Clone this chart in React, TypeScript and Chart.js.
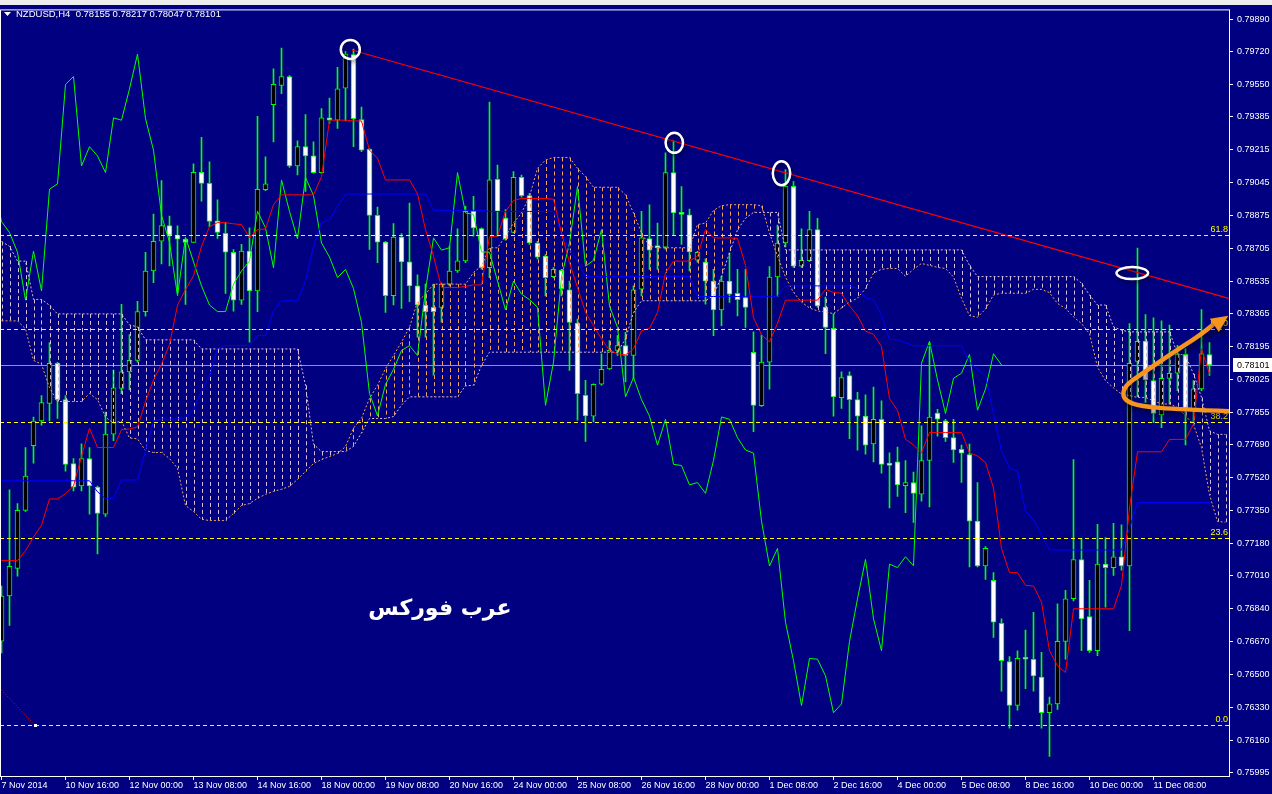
import React, { useEffect, useRef } from "react";
import { Chart, registerables } from "chart.js";

Chart.register(...registerables);

// ---------------- data ----------------
const SYMBOL = "NZDUSD,H4";

const openP = [
  0.76673, 0.76906, 0.77049, 0.77349, 0.77683, 0.77811, 0.77902, 0.78109, 0.77922, 0.77591,
  0.77475, 0.77617, 0.77469, 0.77329, 0.77743, 0.77979, 0.78065, 0.78125, 0.78377, 0.78587,
  0.78741, 0.78822, 0.78772, 0.78751, 0.78735, 0.79097, 0.7904, 0.78847, 0.78782, 0.78684,
  0.78436, 0.7869, 0.78484, 0.79007, 0.79447, 0.79547, 0.79593, 0.7913, 0.7923, 0.79183,
  0.79096, 0.79379, 0.79367, 0.79533, 0.79706, 0.7937, 0.79216, 0.78875, 0.78736, 0.78459,
  0.78762, 0.78634, 0.7851, 0.78411, 0.78399, 0.78399, 0.78519, 0.78587, 0.78639, 0.78896,
  0.78806, 0.78604, 0.79061, 0.78861, 0.78787, 0.79071, 0.78977, 0.78732, 0.78664, 0.78558,
  0.7859, 0.78489, 0.78318, 0.77944, 0.77836, 0.78001, 0.78081, 0.78176, 0.78201, 0.7815,
  0.78493, 0.78755, 0.78719, 0.7871, 0.79096, 0.78887, 0.78878, 0.78643, 0.78633, 0.78535,
  0.78386, 0.78535, 0.78471, 0.7845, 0.78166, 0.7789, 0.78116, 0.78556, 0.78732, 0.79025,
  0.78612, 0.7864, 0.78801, 0.784, 0.78291, 0.77932, 0.78046, 0.77922, 0.77836, 0.77692,
  0.7782, 0.77593, 0.776, 0.77477, 0.77493, 0.77433, 0.77607, 0.77852, 0.77812, 0.77725,
  0.77665, 0.77637, 0.77293, 0.77062, 0.76987, 0.76765, 0.76567, 0.7634, 0.76585, 0.76579,
  0.76487, 0.76302, 0.76348, 0.76671, 0.76892, 0.77095, 0.768, 0.76623, 0.77071, 0.77053,
  0.77109, 0.77062, 0.78119, 0.78225, 0.7802, 0.77843, 0.78032, 0.78058, 0.78156, 0.77864,
  0.77977, 0.78155,
];
const highP = [
  0.76957, 0.77455, 0.77384, 0.77674, 0.77831, 0.77943, 0.78217, 0.78115, 0.77943, 0.77617,
  0.77693, 0.77674, 0.77475, 0.77857, 0.78075, 0.78414, 0.78258, 0.7843, 0.78684, 0.78881,
  0.79054, 0.78871, 0.7882, 0.78755, 0.79141, 0.79278, 0.79152, 0.78955, 0.78837, 0.78698,
  0.78725, 0.7881, 0.79387, 0.79178, 0.79632, 0.7974, 0.79598, 0.7926, 0.79396, 0.79255,
  0.79427, 0.79481, 0.79641, 0.79723, 0.79735, 0.79435, 0.79221, 0.78918, 0.78741, 0.78832,
  0.78781, 0.78938, 0.78567, 0.78519, 0.78519, 0.78524, 0.78716, 0.78805, 0.78921, 0.78973,
  0.7881, 0.79461, 0.79135, 0.78904, 0.79101, 0.79083, 0.78989, 0.78741, 0.78672, 0.78604,
  0.78595, 0.78535, 0.78338, 0.78021, 0.78004, 0.78159, 0.78227, 0.78253, 0.7827, 0.7851,
  0.78895, 0.78929, 0.78835, 0.79198, 0.7926, 0.79024, 0.78907, 0.78689, 0.7865, 0.78595,
  0.78561, 0.78681, 0.78595, 0.78595, 0.78272, 0.78256, 0.7861, 0.78825, 0.79111, 0.79051,
  0.78805, 0.78895, 0.78859, 0.78452, 0.78366, 0.78066, 0.78066, 0.7796, 0.77946, 0.77986,
  0.77916, 0.77646, 0.77676, 0.77607, 0.77547, 0.77786, 0.78216, 0.77872, 0.7782, 0.7782,
  0.77686, 0.77692, 0.77493, 0.77161, 0.77027, 0.76788, 0.76593, 0.76623, 0.7673, 0.76822,
  0.76614, 0.76383, 0.76866, 0.76935, 0.77612, 0.77204, 0.76987, 0.77277, 0.77208, 0.77282,
  0.77274, 0.78315, 0.78706, 0.78362, 0.78345, 0.78329, 0.78307, 0.78202, 0.78185, 0.7802,
  0.78388, 0.78217,
];
const lowP = [
  0.76612, 0.76754, 0.77008, 0.77343, 0.77593, 0.7779, 0.77811, 0.77825, 0.77552, 0.77449,
  0.77449, 0.77329, 0.77124, 0.77317, 0.77709, 0.77953, 0.77973, 0.78115, 0.78353, 0.78526,
  0.78623, 0.78613, 0.78475, 0.78414, 0.78735, 0.78948, 0.78816, 0.78755, 0.78471, 0.78379,
  0.78414, 0.78219, 0.78377, 0.79003, 0.79255, 0.79504, 0.79123, 0.79084, 0.78998, 0.79093,
  0.79093, 0.7935, 0.79324, 0.79363, 0.7923, 0.79204, 0.78699, 0.7863, 0.78373, 0.78411,
  0.78394, 0.78428, 0.78245, 0.78245, 0.78048, 0.78322, 0.7851, 0.78579, 0.7863, 0.78767,
  0.78596, 0.78553, 0.78767, 0.78746, 0.78784, 0.78969, 0.78724, 0.7865, 0.78458, 0.78553,
  0.78458, 0.78073, 0.77816, 0.77705, 0.77807, 0.77996, 0.78078, 0.7815, 0.78013, 0.7803,
  0.78458, 0.78595, 0.78595, 0.787, 0.78775, 0.78724, 0.78587, 0.78633, 0.78415, 0.78253,
  0.78304, 0.78424, 0.78355, 0.78295, 0.77756, 0.77886, 0.77976, 0.78456, 0.78712, 0.78606,
  0.78606, 0.78636, 0.784, 0.7816, 0.77836, 0.77876, 0.7772, 0.7766, 0.7764, 0.776,
  0.77541, 0.77361, 0.77421, 0.77337, 0.77287, 0.77397, 0.77367, 0.77733, 0.77706, 0.77597,
  0.77493, 0.77057, 0.77057, 0.76992, 0.76692, 0.76414, 0.76223, 0.76315, 0.76427, 0.76414,
  0.76223, 0.76076, 0.76319, 0.76579, 0.7688, 0.76623, 0.76614, 0.76597, 0.76848, 0.77013,
  0.77039, 0.76727, 0.77937, 0.77907, 0.77803, 0.77777, 0.77899, 0.77968, 0.77687, 0.77803,
  0.77968, 0.78047,
];
const closeP = [
  0.76906, 0.77059, 0.77349, 0.77526, 0.77811, 0.77906, 0.78109, 0.77922, 0.77587, 0.77469,
  0.77617, 0.77475, 0.77333, 0.77743, 0.77983, 0.78065, 0.78125, 0.78377, 0.78587, 0.78741,
  0.78822, 0.78772, 0.78751, 0.78735, 0.79097, 0.7904, 0.78843, 0.78786, 0.78684, 0.78436,
  0.7869, 0.78484, 0.7901, 0.79038, 0.79552, 0.79593, 0.7913, 0.7923, 0.79182, 0.79096,
  0.79379, 0.79367, 0.79529, 0.79709, 0.79375, 0.79212, 0.78875, 0.78736, 0.78459, 0.78762,
  0.78634, 0.7851, 0.78411, 0.78377, 0.78377, 0.78519, 0.78587, 0.78639, 0.78896, 0.7881,
  0.78604, 0.79058, 0.78895, 0.78753, 0.79071, 0.78977, 0.78732, 0.78659, 0.78553, 0.78595,
  0.78496, 0.78321, 0.77953, 0.77838, 0.78001, 0.78078, 0.78176, 0.78201, 0.7815, 0.78489,
  0.78758, 0.78695, 0.78707, 0.79096, 0.78887, 0.7888, 0.78686, 0.78684, 0.78535, 0.78386,
  0.78535, 0.78467, 0.78439, 0.78399, 0.77892, 0.78116, 0.78556, 0.78732, 0.79025, 0.78612,
  0.78642, 0.78801, 0.78406, 0.78295, 0.77936, 0.78036, 0.77922, 0.77836, 0.77686, 0.7782,
  0.77587, 0.77581, 0.77481, 0.77493, 0.77437, 0.77607, 0.77832, 0.7782, 0.77725, 0.77661,
  0.77645, 0.77293, 0.77061, 0.77152, 0.7677, 0.76571, 0.7634, 0.76583, 0.76579, 0.76493,
  0.76302, 0.76348, 0.76671, 0.76892, 0.77095, 0.76788, 0.76623, 0.77071, 0.77053, 0.77109,
  0.77062, 0.7811, 0.78223, 0.78024, 0.7785, 0.78032, 0.78058, 0.78156, 0.77867, 0.77977,
  0.78159, 0.78101,
];

// Ichimoku lines
const tenkan = [
  0.77089, 0.77089, 0.77089, 0.7714, 0.77211, 0.77272, 0.77408, 0.77408, 0.77435, 0.77475,
  0.77628, 0.77774, 0.77674, 0.77674, 0.77674, 0.77766, 0.7777, 0.7778, 0.77912, 0.78024,
  0.78105, 0.78207, 0.7841, 0.78491, 0.78562, 0.78715, 0.78816, 0.78837, 0.78837, 0.78831,
  0.78827, 0.7876, 0.78801, 0.78805, 0.7893, 0.78981, 0.78981, 0.78981, 0.78981, 0.78981,
  0.79075, 0.79367, 0.79367, 0.79367, 0.79363, 0.79363, 0.79212, 0.7917, 0.79058, 0.79058,
  0.79058, 0.79058, 0.78986, 0.78801, 0.78664, 0.78502, 0.78502, 0.78502, 0.78507, 0.78515,
  0.78515, 0.78765, 0.78767, 0.78895, 0.78952, 0.78962, 0.78962, 0.78962, 0.78962, 0.78958,
  0.78784, 0.7863, 0.78501, 0.78373, 0.78304, 0.78236, 0.78176, 0.78159, 0.78153, 0.78184,
  0.78278, 0.7829, 0.78373, 0.78578, 0.78638, 0.78638, 0.78638, 0.78664, 0.78801, 0.78758,
  0.78758, 0.78758, 0.78755, 0.78616, 0.78346, 0.78256, 0.7822, 0.78316, 0.78436, 0.78436,
  0.78436, 0.78436, 0.78436, 0.78492, 0.78476, 0.78472, 0.78406, 0.78356, 0.78276, 0.7826,
  0.78196, 0.77926, 0.77866, 0.77717, 0.77687, 0.77647, 0.77752, 0.77752, 0.77752, 0.77752,
  0.77752, 0.77647, 0.7763, 0.77596, 0.77465, 0.77152, 0.77027, 0.77027, 0.76961, 0.76958,
  0.76874, 0.76623, 0.76545, 0.7651, 0.7684, 0.7684, 0.7684, 0.7684, 0.7684, 0.7684,
  0.76961, 0.77361, 0.77652, 0.77652, 0.77652, 0.77652, 0.77716, 0.77716, 0.77716, 0.77795,
  0.78185, 0.78055,
];
const kijun = [
  0.77502, 0.77502, 0.77502, 0.77502, 0.77502, 0.77502, 0.77502, 0.77502, 0.77502, 0.77502,
  0.77502, 0.77502, 0.77445, 0.7741, 0.7741, 0.77506, 0.77506, 0.77506, 0.77658, 0.77811,
  0.77821, 0.77821, 0.77821, 0.77831, 0.77871, 0.77963, 0.78044, 0.78186, 0.78201, 0.78201,
  0.78201, 0.78203, 0.78253, 0.78253, 0.78382, 0.78433, 0.78433, 0.78433, 0.78536, 0.78716,
  0.78836, 0.78853, 0.78921, 0.78985, 0.78985, 0.78985, 0.78985, 0.78985, 0.78985, 0.78985,
  0.78985, 0.78985, 0.78985, 0.78985, 0.78901, 0.78901, 0.78901, 0.78901, 0.78901, 0.78901,
  0.78901, 0.78895, 0.78895, 0.78895, 0.78895, 0.78895, 0.78895, 0.78895, 0.78895, 0.78895,
  0.78784, 0.78698, 0.78638, 0.78558, 0.78558, 0.78558, 0.78558, 0.78558, 0.78558, 0.78558,
  0.78558, 0.78558, 0.78558, 0.78558, 0.78558, 0.78558, 0.78558, 0.78455, 0.78455, 0.78455,
  0.78455, 0.78455, 0.78455, 0.78456, 0.78456, 0.78456, 0.78456, 0.78456, 0.7851, 0.7851,
  0.7851, 0.7851, 0.7851, 0.7851, 0.7851, 0.7851, 0.7851, 0.78496, 0.78446, 0.7844,
  0.78356, 0.78232, 0.78232, 0.78216, 0.782, 0.782, 0.782, 0.782, 0.782, 0.782,
  0.782, 0.78116, 0.78076, 0.78045, 0.77847, 0.77656, 0.77569, 0.77551, 0.77343, 0.773,
  0.77222, 0.77144, 0.77144, 0.77144, 0.77144, 0.77144, 0.77144, 0.77144, 0.77144, 0.77144,
  0.77144, 0.77256, 0.7739, 0.7739, 0.7739, 0.7739, 0.7739, 0.7739, 0.7739, 0.7739,
  0.7739, 0.7739,
];
const spanA = [
  0.78329, 0.78329, 0.78329, 0.78288, 0.78125, 0.78105, 0.77983, 0.77912, 0.77912, 0.77912,
  0.77912, 0.77953, 0.77922, 0.77831, 0.778, 0.77811, 0.77723, 0.77719, 0.77658, 0.77648,
  0.77648, 0.77617, 0.77567, 0.77374, 0.77343, 0.77303, 0.77296, 0.77296, 0.77296, 0.77333,
  0.77374, 0.77384, 0.77411, 0.77432, 0.77447, 0.77458, 0.77473, 0.77509, 0.7755, 0.77591,
  0.77612, 0.77627, 0.77643, 0.77679, 0.77774, 0.77825, 0.77928, 0.77996, 0.78082, 0.7815,
  0.78219, 0.78296, 0.78428, 0.78467, 0.78519, 0.78519, 0.78519, 0.78519, 0.78519, 0.78579,
  0.78613, 0.78707, 0.78707, 0.78767, 0.78835, 0.78887, 0.78972, 0.79118, 0.79161, 0.79174,
  0.79174, 0.79174, 0.79118, 0.79075, 0.7902, 0.7902, 0.7902, 0.7902, 0.78981, 0.78887,
  0.78784, 0.78715, 0.78707, 0.78707, 0.78707, 0.78707, 0.78707, 0.78827, 0.78835, 0.789,
  0.78925, 0.7893, 0.7893, 0.7893, 0.7893, 0.78925, 0.78784, 0.78664, 0.78556, 0.78476,
  0.78426, 0.78396, 0.7838, 0.78376, 0.78366, 0.78396, 0.78426, 0.78446, 0.78496, 0.78576,
  0.78596, 0.786, 0.786, 0.7856, 0.78596, 0.78626, 0.78616, 0.78606, 0.786, 0.78556,
  0.78446, 0.78356, 0.78348, 0.7839, 0.78463, 0.78472, 0.78472, 0.78472, 0.78472, 0.78492,
  0.78492, 0.78475, 0.78419, 0.78393, 0.7835, 0.78315, 0.78263, 0.7809, 0.7802, 0.77982,
  0.77951, 0.77942, 0.77933, 0.77933, 0.77916, 0.77899, 0.77899, 0.77881, 0.77838, 0.77794,
  0.77673, 0.7743, 0.77291, 0.77288,
];
const spanB = [
  0.78739, 0.78715, 0.78638, 0.78638, 0.7844, 0.7844, 0.7841, 0.78365, 0.78365, 0.78365,
  0.78365, 0.78365, 0.78365, 0.78365, 0.78365, 0.78365, 0.78308, 0.78298, 0.78231, 0.78231,
  0.78231, 0.78231, 0.78231, 0.78231, 0.78231, 0.78184, 0.78184, 0.78184, 0.78184, 0.78184,
  0.78184, 0.78184, 0.78184, 0.78184, 0.78184, 0.78184, 0.78184, 0.78184, 0.77996, 0.77691,
  0.77653, 0.77653, 0.77653, 0.77653, 0.7768, 0.7775, 0.77824, 0.77824, 0.77824, 0.77834,
  0.77893, 0.77936, 0.77936, 0.77936, 0.77936, 0.77936, 0.77936, 0.77936, 0.77993, 0.77996,
  0.78099, 0.78167, 0.78167, 0.78167, 0.78167, 0.78167, 0.78167, 0.78167, 0.78167, 0.78167,
  0.78167, 0.78167, 0.78167, 0.78167, 0.78167, 0.78167, 0.78167, 0.78167, 0.78236, 0.78373,
  0.78433, 0.78433, 0.78433, 0.78433, 0.78433, 0.78433, 0.78433, 0.78433, 0.78433, 0.7846,
  0.7856, 0.7868, 0.788, 0.7886, 0.7889, 0.7889, 0.7889, 0.7889, 0.78696, 0.78696,
  0.78696, 0.78696, 0.78696, 0.78696, 0.78696, 0.78696, 0.78696, 0.78696, 0.78696, 0.78696,
  0.78696, 0.78696, 0.78696, 0.78696, 0.78696, 0.78696, 0.78696, 0.78696, 0.78696, 0.78696,
  0.78696, 0.78616, 0.78558, 0.78558, 0.78558, 0.78558, 0.78558, 0.78558, 0.78558, 0.78558,
  0.78558, 0.78558, 0.78558, 0.78558, 0.78558, 0.78524, 0.78463, 0.78411, 0.78411, 0.78298,
  0.78281, 0.78272, 0.78272, 0.78272, 0.78272, 0.78272, 0.78272, 0.78159, 0.7815, 0.78055,
  0.77933, 0.7776, 0.77742, 0.77742,
];
const CHIKOU_SHIFT = 26;

// axes
const xTickBars = [0, 8, 16, 24, 32, 40, 48, 56, 64, 72, 80, 88, 96, 104, 112, 120, 128, 136, 144];
const xTickLabels = [
  "7 Nov 2014", "10 Nov 16:00", "12 Nov 00:00", "13 Nov 08:00", "14 Nov 16:00", "18 Nov 00:00",
  "19 Nov 08:00", "20 Nov 16:00", "24 Nov 00:00", "25 Nov 08:00", "26 Nov 16:00", "28 Nov 00:00",
  "1 Dec 08:00", "2 Dec 16:00", "4 Dec 00:00", "5 Dec 08:00", "8 Dec 16:00", "10 Dec 00:00", "11 Dec 08:00",
];
const yTickValues = [
  0.7989, 0.7972, 0.7955, 0.79385, 0.79215, 0.79045, 0.78875, 0.78705, 0.78535, 0.78365, 0.78195,
  0.78025, 0.77855, 0.7769, 0.7752, 0.7735, 0.7718, 0.7701, 0.7684, 0.7667, 0.765, 0.7633, 0.7616, 0.75995,
];

// drawn objects
const fibLevels = [0, 23.6, 38.2, 50, 61.8];
const fibZeroPrice = 0.76237;
const fibFullPrice = 0.80342;
const fibAnchorBars = [4.19, -90];
const trendBars = [43.8, 153.4];
const trendPrices = [0.7973, 0.78445];
const circleBars = [43.6, 84.1, 97.5, 141.35];
const circlePrices = [0.79733, 0.7925, 0.79093, 0.78576];
const arrowBars = [153.44, 147.31, 142.31, 140.56, 140.13, 140.56, 142.31, 146.06, 149.81, 151.5];
const arrowPrices = [0.77862, 0.77871, 0.77887, 0.77915, 0.77951, 0.77997, 0.78049, 0.78154, 0.78255, 0.78312];
const arrowTip = [153.35, 0.78356];
const watermark = "عرب فوركس";
const watermarkBar = 54.8;
const watermarkPrice = 0.76836;

// ---------------- styles ----------------
const NAVY = "#000080";
const LIME = "#00FF00";
const AXIS_FONT_FAMILY = '"Liberation Sans", Arial, sans-serif';
const X_MIN = -0.1875;
const X_MAX = 153.4375;
const Y_MIN = 0.75975;
const Y_MAX = 0.7994;

export default function App() {
  const ref = useRef<HTMLCanvasElement | null>(null);

  useEffect(() => {
    document.body.style.margin = "0";
    document.body.style.background = NAVY;
    const canvas = ref.current;
    if (!canvas) return;

    const idx = openP.map((_, i) => i);
    const wickData = idx.map((i) => ({ x: i, y: [lowP[i], highP[i]] }));
    const bodyData = idx.map((i) => ({
      x: i,
      y: [Math.min(openP[i], closeP[i]), Math.max(openP[i], closeP[i])],
    }));
    const bodyColors = idx.map((i) => (closeP[i] >= openP[i] ? "#000000" : "#FFFFFF"));
    const line = (arr: number[], shift = 0) => arr.map((v, i) => ({ x: i - shift, y: v }));

    const overlay = {
      id: "mt4overlay",
      beforeDraw(chart: any) {
        const { ctx, width, height } = chart;
        ctx.save();
        ctx.fillStyle = NAVY;
        ctx.fillRect(0, 0, width, height);
        ctx.fillStyle = "#EDEDED";
        ctx.fillRect(0, 0, width, 5);
        ctx.restore();
      },
      beforeDatasetsDraw(chart: any) {
        const { ctx, chartArea, scales } = chart;
        const y = Math.round(scales.y.getPixelForValue(closeP[closeP.length - 1])) + 0.5;
        ctx.save();
        ctx.strokeStyle = "#8C96B4";
        ctx.lineWidth = 1;
        ctx.beginPath();
        ctx.moveTo(chartArea.left, y);
        ctx.lineTo(chartArea.right, y);
        ctx.stroke();
        ctx.restore();
      },
      afterDatasetDraw(chart: any, args: any) {
        if (args.index !== 1) return;
        const { ctx, chartArea, scales } = chart;
        ctx.save();
        ctx.beginPath();
        ctx.rect(chartArea.left, chartArea.top, chartArea.right - chartArea.left, chartArea.bottom - chartArea.top);
        ctx.clip();
        ctx.lineWidth = 1;
        ctx.setLineDash([4, 3]);
        for (let i = 0; i < spanA.length; i++) {
          const a = spanA[i];
          const b = spanB[i];
          const px = Math.round(scales.x.getPixelForValue(i)) + 0.5;
          ctx.strokeStyle = a > b ? "#F4A460" : "#D8BFD8";
          ctx.beginPath();
          ctx.moveTo(px, scales.y.getPixelForValue(Math.max(a, b)));
          ctx.lineTo(px, scales.y.getPixelForValue(Math.min(a, b)));
          ctx.stroke();
        }
        ctx.restore();
      },
      afterDatasetsDraw(chart: any) {
        const { ctx, chartArea, scales } = chart;
        const X = (v: number) => scales.x.getPixelForValue(v);
        const Y = (v: number) => scales.y.getPixelForValue(v);
        ctx.save();
        ctx.beginPath();
        ctx.rect(chartArea.left, chartArea.top, chartArea.right - chartArea.left, chartArea.bottom - chartArea.top);
        ctx.clip();

        // fibonacci levels
        const range = fibFullPrice - fibZeroPrice;
        ctx.font = `9px ${AXIS_FONT_FAMILY}`;
        ctx.textAlign = "right";
        ctx.textBaseline = "bottom";
        fibLevels.forEach((lv) => {
          const yy = Math.round(Y(fibZeroPrice + (range * lv) / 100)) + 0.5;
          ctx.strokeStyle = "#FFFF00";
          ctx.setLineDash([4, 3]);
          ctx.lineWidth = 1;
          ctx.beginPath();
          ctx.moveTo(chartArea.left, yy);
          ctx.lineTo(chartArea.right, yy);
          ctx.stroke();
          ctx.fillStyle = "#FFFF00";
          ctx.fillText(lv.toFixed(1), chartArea.right - 1, yy - 1);
        });
        // fibonacci base line
        ctx.strokeStyle = "#FF0000";
        ctx.setLineDash([1, 2]);
        ctx.beginPath();
        ctx.moveTo(X(fibAnchorBars[0]), Y(fibZeroPrice));
        ctx.lineTo(X(fibAnchorBars[1]), Y(fibFullPrice));
        ctx.stroke();
        ctx.setLineDash([]);
        ctx.fillStyle = "#FFFFFF";
        ctx.fillRect(Math.round(X(fibAnchorBars[0])) - 1, Math.round(Y(fibZeroPrice)) - 1, 3, 3);

        // circles
        const radii = [
          [9.5, 9.5],
          [8.7, 10],
          [8.7, 12],
          [15.8, 6],
        ];
        ctx.shadowColor = "rgba(0,0,0,0.55)";
        ctx.shadowBlur = 4;
        ctx.shadowOffsetX = 2;
        ctx.shadowOffsetY = 2;
        ctx.strokeStyle = "#FFFFFF";
        ctx.lineWidth = 2.5;
        circleBars.forEach((b, i) => {
          ctx.beginPath();
          ctx.ellipse(X(b), Y(circlePrices[i]), radii[i][0], radii[i][1], 0, 0, Math.PI * 2);
          ctx.stroke();
        });

        // orange arrow
        const pts = arrowBars.map((b, i) => [X(b), Y(arrowPrices[i])]);
        ctx.shadowColor = "rgba(0,0,0,0.6)";
        ctx.shadowBlur = 6;
        ctx.shadowOffsetX = 3;
        ctx.shadowOffsetY = 4;
        ctx.strokeStyle = "#F7941D";
        ctx.lineWidth = 4.5;
        ctx.lineCap = "round";
        ctx.lineJoin = "round";
        ctx.beginPath();
        ctx.moveTo(pts[0][0], pts[0][1]);
        for (let i = 1; i < pts.length - 1; i++) {
          const mx = (pts[i][0] + pts[i + 1][0]) / 2;
          const my = (pts[i][1] + pts[i + 1][1]) / 2;
          ctx.quadraticCurveTo(pts[i][0], pts[i][1], mx, my);
        }
        ctx.lineTo(pts[pts.length - 1][0], pts[pts.length - 1][1]);
        ctx.stroke();
        const tx = X(arrowTip[0]);
        const ty = Y(arrowTip[1]);
        const last = pts[pts.length - 2];
        const ang = Math.atan2(ty - last[1], tx - last[0]);
        const L = 17;
        const W = 8;
        const bx = tx - L * Math.cos(ang);
        const by = ty - L * Math.sin(ang);
        ctx.fillStyle = "#F7941D";
        ctx.beginPath();
        ctx.moveTo(tx, ty);
        ctx.lineTo(bx + W * Math.sin(ang), by - W * Math.cos(ang));
        ctx.lineTo(bx - W * Math.sin(ang), by + W * Math.cos(ang));
        ctx.closePath();
        ctx.fill();
        ctx.shadowColor = "transparent";

        // watermark text
        ctx.fillStyle = "#FFFFFF";
        ctx.font = 'bold 22px "DejaVu Sans", sans-serif';
        ctx.textAlign = "center";
        ctx.textBaseline = "middle";
        ctx.fillText(watermark, X(watermarkBar), Y(watermarkPrice));

        // header
        const last_i = closeP.length - 1;
        ctx.fillStyle = "#FFFFFF";
        ctx.beginPath();
        ctx.moveTo(4, 12);
        ctx.lineTo(11, 12);
        ctx.lineTo(7.5, 16);
        ctx.closePath();
        ctx.fill();
        ctx.font = `9.5px ${AXIS_FONT_FAMILY}`;
        ctx.textAlign = "left";
        ctx.textBaseline = "middle";
        ctx.fillText(
          `${SYMBOL}  ${openP[last_i].toFixed(5)} ${highP[last_i].toFixed(5)} ${lowP[last_i].toFixed(5)} ${closeP[last_i].toFixed(5)}`,
          16,
          14
        );
        ctx.restore();
      },
      afterDraw(chart: any) {
        const { ctx, chartArea, scales, width } = chart;
        ctx.save();
        ctx.strokeStyle = "#FFFFFF";
        ctx.lineWidth = 1;
        ctx.strokeRect(chartArea.left + 0.5, chartArea.top + 0.5, chartArea.right - chartArea.left, chartArea.bottom - chartArea.top);
        // current price box
        const lastClose = closeP[closeP.length - 1];
        const yy = Math.round(scales.y.getPixelForValue(lastClose));
        ctx.fillStyle = "#FFFFFF";
        ctx.fillRect(chartArea.right + 4, yy - 7, width - chartArea.right - 4, 14);
        ctx.fillStyle = "#000000";
        ctx.font = `9px ${AXIS_FONT_FAMILY}`;
        ctx.textAlign = "left";
        ctx.textBaseline = "middle";
        ctx.fillText(lastClose.toFixed(5), chartArea.right + 8, yy + 0.5);
        ctx.restore();
      },
    };

    const chart = new Chart(canvas, {
      type: "bar",
      data: {
        datasets: [
          {
            type: "bar",
            data: wickData as any,
            backgroundColor: LIME,
            barThickness: 1,
            grouped: false,
            order: 20,
          } as any,
          {
            type: "bar",
            data: bodyData as any,
            backgroundColor: bodyColors,
            borderColor: LIME,
            borderWidth: 1,
            borderSkipped: false,
            barThickness: 5,
            minBarLength: 2,
            grouped: false,
            order: 19,
          } as any,
          {
            type: "line",
            data: line(spanA),
            borderColor: "#F4A460",
            borderWidth: 1,
            borderDash: [2, 2],
            pointRadius: 0,
            order: 9,
          },
          {
            type: "line",
            data: line(spanB),
            borderColor: "#D8BFD8",
            borderWidth: 1,
            borderDash: [2, 2],
            pointRadius: 0,
            order: 8,
          },
          {
            type: "line",
            data: line(closeP, CHIKOU_SHIFT),
            borderColor: LIME,
            borderWidth: 1,
            pointRadius: 0,
            order: 7,
          },
          {
            type: "line",
            data: line(kijun),
            borderColor: "#0000FF",
            borderWidth: 1,
            pointRadius: 0,
            order: 6,
          },
          {
            type: "line",
            data: line(tenkan),
            borderColor: "#FF0000",
            borderWidth: 1,
            pointRadius: 0,
            order: 5,
          },
          {
            type: "line",
            data: trendBars.map((b, i) => ({ x: b, y: trendPrices[i] })),
            borderColor: "#FF0000",
            borderWidth: 1.2,
            pointRadius: 0,
            order: 4,
          },
        ] as any,
      },
      options: {
        responsive: false,
        animation: false,
        devicePixelRatio: 1,
        events: [],
        layout: { padding: { top: 5, left: 0, right: 0, bottom: 0 } },
        plugins: { legend: { display: false }, tooltip: { enabled: false } },
        scales: {
          x: {
            type: "linear",
            min: X_MIN,
            max: X_MAX,
            offset: false,
            afterBuildTicks: (axis: any) => {
              axis.ticks = xTickBars.map((v) => ({ value: v }));
            },
            afterFit: (axis: any) => {
              axis.height = 18;
            },
            ticks: {
              color: "#FFFFFF",
              font: { family: AXIS_FONT_FAMILY, size: 9 },
              maxRotation: 0,
              minRotation: 0,
              autoSkip: false,
              align: "start",
              padding: 0,
              callback: (_v: any, i: number) => xTickLabels[i] ?? "",
            },
            grid: { drawOnChartArea: false, drawTicks: true, tickLength: 4, color: "#FFFFFF", offset: false },
            border: { display: false },
          },
          y: {
            type: "linear",
            position: "right",
            min: Y_MIN,
            max: Y_MAX,
            afterBuildTicks: (axis: any) => {
              axis.ticks = yTickValues.map((v) => ({ value: v }));
            },
            afterFit: (axis: any) => {
              axis.width = 43;
            },
            ticks: {
              color: "#FFFFFF",
              font: { family: AXIS_FONT_FAMILY, size: 9 },
              padding: 4,
              autoSkip: false,
              callback: (v: any) => Number(v).toFixed(5),
            },
            grid: { drawOnChartArea: false, drawTicks: true, tickLength: 4, color: "#FFFFFF" },
            border: { display: false },
          },
        } as any,
      },
      plugins: [overlay],
    });

    return () => chart.destroy();
  }, []);

  return (
    <div style={{ width: 1272, height: 794, background: NAVY, overflow: "hidden" }}>
      <canvas ref={ref} width={1272} height={794} style={{ display: "block" }} />
    </div>
  );
}
